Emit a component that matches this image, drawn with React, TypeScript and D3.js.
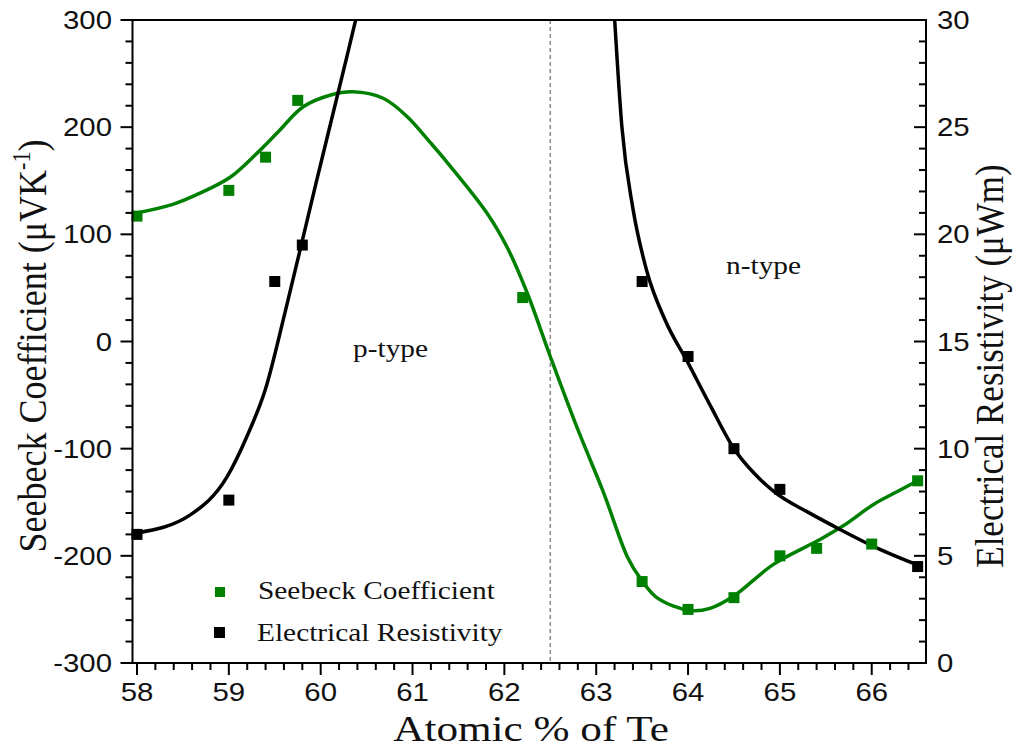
import React from "react";
import * as d3 from "d3";

// ---- data ----
const seebeckX = [58, 59, 59.4, 59.75, 62.2, 63.5, 64, 64.5, 65, 65.4, 66, 66.5];
const seebeckY = [117, 141, 172, 225, 41, -224, -250, -239, -200, -193, -189, -130];

const resistX = [58, 59, 59.5, 59.8, 63.5, 64, 64.5, 65, 66.5];
const resistY = [6.0, 7.6, 17.8, 19.5, 17.8, 14.3, 10.0, 8.1, 4.5];

// fitted curves
const seebeckFitX = [58.0, 58.39, 58.65, 59.01, 59.31, 59.53, 59.81, 60.11, 60.35, 60.68, 60.94, 61.19, 61.33, 61.81, 62.03, 62.25, 62.5, 62.79, 63.08, 63.34, 63.48, 63.66, 64.02, 64.24, 64.49, 64.93, 65.41, 65.69, 66.02, 66.28, 66.5];
const seebeckFitY = [120, 128, 137, 153, 176, 195, 219, 230, 233, 227, 210, 186, 172, 120, 88, 45, -14, -80, -141, -201, -221, -239, -251, -249, -238, -208, -186, -172, -152, -140, -130];

const resistFitLeftX = [58.0, 58.58, 58.98, 59.2, 59.4, 59.62, 59.95, 60.28, 60.42];
const resistFitLeftY = [6.07, 6.91, 8.68, 10.6, 12.8, 16.5, 22.4, 28.2, 30.7];

const resistFitRightX = [63.19, 63.28, 63.4, 63.55, 63.75, 64.0, 64.25, 64.5, 64.72, 64.95, 65.3, 65.66, 66.09, 66.51];
const resistFitRightY = [30.8, 25.0, 21.2, 18.3, 16.0, 14.0, 11.95, 10.0, 8.85, 7.95, 7.05, 6.22, 5.3, 4.55];

const xTicks = [58, 59, 60, 61, 62, 63, 64, 65, 66];
const leftTicks = [-300, -200, -100, 0, 100, 200, 300];
const rightTicks = [0, 5, 10, 15, 20, 25, 30];
const boundaryX = 62.5;

const legendLabels = ["Seebeck Coefficient", "Electrical Resistivity"];

const GREEN = "#008000";
const SX = 1.13;
const SERIF = "'Liberation Serif', 'Times New Roman', serif";
const SANS = "'Liberation Sans', Arial, sans-serif";

export default function App() {
  const x = d3.scaleLinear().domain([57.951, 66.591]).range([132.5, 926]);
  const yL = d3.scaleLinear().domain([-300, 300]).range([663, 20]);
  const yR = d3.scaleLinear().domain([0, 30]).range([663, 20]);
  const [x0, x1] = x.range();
  const [yb, yt] = yL.range();

  const lineL = d3
    .line<[number, number]>()
    .x((d) => x(d[0]))
    .y((d) => yL(d[1]))
    .curve(d3.curveCatmullRom.alpha(0.5));
  const lineR = d3
    .line<[number, number]>()
    .x((d) => x(d[0]))
    .y((d) => yR(d[1]))
    .curve(d3.curveMonotoneX);

  const zip = (a: number[], b: number[]) => a.map((v, i) => [v, b[i]] as [number, number]);

  const xMinor = d3.range(58, 66.6, 0.2).filter((v) => Math.abs(v - Math.round(v)) > 0.01);
  const lMinor = d3.range(-300, 301, 20).filter((v) => v % 100 !== 0);
  const rMinor = d3.range(0, 30.1, 1).filter((v) => v % 5 !== 0);

  const hText = (tx: number, ty: number, s = SX) => `translate(${tx},${ty}) scale(${s},1)`;
  const sq = 11;

  return (
    <svg
      width={1014}
      height={751}
      style={{ position: "absolute", left: 0, top: 0, background: "#fff" }}
    >
      <defs>
        <clipPath id="plot">
          <rect x={x0} y={yt} width={x1 - x0} height={yb - yt} />
        </clipPath>
      </defs>

      {/* boundary dashed line */}
      <line
        x1={x(boundaryX)}
        x2={x(boundaryX)}
        y1={yt}
        y2={yb}
        stroke="#8a8a8a"
        strokeWidth={1.5}
        strokeDasharray="4,3"
      />

      {/* curves */}
      <g clipPath="url(#plot)" fill="none" strokeLinejoin="round">
        <path d={lineL(zip(seebeckFitX, seebeckFitY)) || ""} stroke={GREEN} strokeWidth={3.5} />
        <path d={lineR(zip(resistFitLeftX, resistFitLeftY)) || ""} stroke="#000" strokeWidth={3.5} />
        <path d={lineR(zip(resistFitRightX, resistFitRightY)) || ""} stroke="#000" strokeWidth={3.5} />
      </g>

      {/* markers */}
      {seebeckX.map((v, i) => (
        <rect key={"s" + i} x={x(v) - sq / 2} y={yL(seebeckY[i]) - sq / 2} width={sq} height={sq} fill={GREEN} />
      ))}
      {resistX.map((v, i) => (
        <rect key={"r" + i} x={x(v) - sq / 2} y={yR(resistY[i]) - sq / 2} width={sq} height={sq} fill="#000" />
      ))}

      {/* frame */}
      <g stroke="#000" strokeWidth={2} fill="none">
        <rect x={x0} y={yt} width={x1 - x0} height={yb - yt} />
      </g>

      {/* ticks */}
      <g stroke="#000" strokeWidth={2}>
        {xTicks.map((t) => (
          <line key={"xt" + t} x1={x(t)} x2={x(t)} y1={yb} y2={yb + 12} />
        ))}
        {xMinor.map((t, i) => (
          <line key={"xm" + i} x1={x(t)} x2={x(t)} y1={yb} y2={yb + 7} />
        ))}
        {leftTicks.map((t) => (
          <line key={"lt" + t} x1={x0 - 12} x2={x0} y1={yL(t)} y2={yL(t)} />
        ))}
        {lMinor.map((t, i) => (
          <line key={"lm" + i} x1={x0 - 7} x2={x0} y1={yL(t)} y2={yL(t)} />
        ))}
        {rightTicks.map((t) => (
          <line key={"rt" + t} x1={x1 - 12} x2={x1} y1={yR(t)} y2={yR(t)} />
        ))}
        {rMinor.map((t, i) => (
          <line key={"rm" + i} x1={x1 - 7} x2={x1} y1={yR(t)} y2={yR(t)} />
        ))}
      </g>

      {/* tick labels */}
      <g fontFamily={SANS} fontSize={26} fill="#111">
        {xTicks.map((t) => (
          <text key={"xl" + t} transform={hText(x(t), 701)} textAnchor="middle">
            {t}
          </text>
        ))}
        {leftTicks.map((t) => (
          <text key={"ll" + t} transform={hText(112, yL(t) + 9)} textAnchor="end">
            {t}
          </text>
        ))}
        {rightTicks.map((t) => (
          <text key={"rl" + t} transform={hText(937, yR(t) + 9)} textAnchor="start">
            {t}
          </text>
        ))}
      </g>

      {/* annotations */}
      <g fontFamily={SERIF} fontSize={26} fill="#111">
        <text transform={hText(353, 357)}>p-type</text>
        <text transform={hText(726, 274)}>n-type</text>
      </g>

      {/* legend */}
      <g fontFamily={SERIF} fontSize={26} fill="#111">
        <rect x={215} y={587} width={10} height={10} fill={GREEN} />
        <text transform={hText(258, 599)}>{legendLabels[0]}</text>
        <rect x={214} y={627} width={11} height={11} fill="#000" />
        <text transform={hText(257, 641)}>{legendLabels[1]}</text>
      </g>

      {/* axis titles */}
      <g fontFamily={SERIF} fill="#111">
        <text transform={hText(531, 741, 1.2)} textAnchor="middle" fontSize={36}>
          Atomic % of Te
        </text>
        <text
          transform={`translate(46,346) scale(${SX},1) rotate(-90)`}
          textAnchor="middle"
          fontSize={36}
        >
          Seebeck Coefficient (μVK
          <tspan fontSize={22} dy={-14}>-1</tspan>
          <tspan dy={14}>)</tspan>
        </text>
        <text
          transform={`translate(1003,366) scale(${SX},1) rotate(-90)`}
          textAnchor="middle"
          fontSize={35}
        >
          Electrical Resistivity (μWm)
        </text>
      </g>
    </svg>
  );
}
